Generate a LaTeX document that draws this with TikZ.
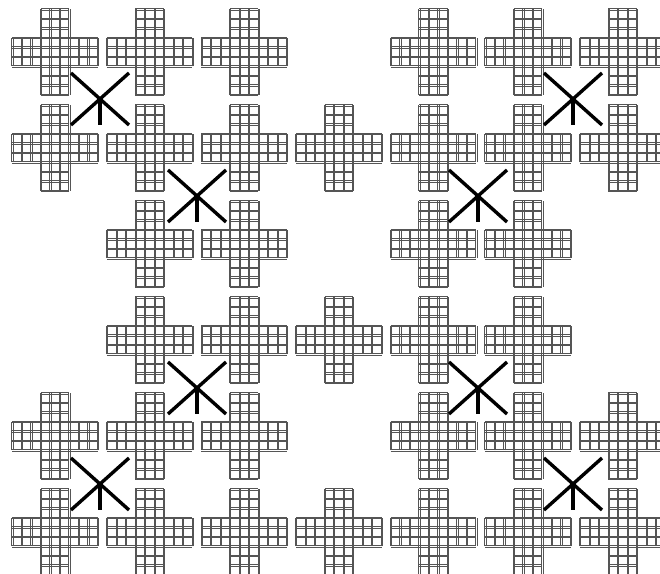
\documentclass[tikz,border=0pt]{standalone}
\usepackage{tikz}
\definecolor{garisabu}{RGB}{85,85,85}

\tikzset{
  plus/.pic={
    \foreach \d in {-0.06,0.06} {
      \foreach \k in {-1.5,-0.5,0.5,1.5} {
        \draw[selgaris] (-4.5,\k+\d) -- (4.5,\k+\d);
        \draw[selgaris] (\k+\d,-4.5) -- (\k+\d,4.5);
      }
      \foreach \k in {-4.5,-3.5,-2.5,2.5,3.5,4.5} {
        \draw[selgaris] (-1.5,\k+\d) -- (1.5,\k+\d);
        \draw[selgaris] (\k+\d,-1.5) -- (\k+\d,1.5);
      }
    }
  },
  silang/.pic={
    \draw[tandaX] (-29,26) -- (29,-26);
    \draw[tandaX] (-29,-26) -- (29,26);
    \draw[tandaX] (0,0) -- (0,-26);
  }
}

\begin{document}
\begin{tikzpicture}[x=0.5mm, y=0.5mm,
    selgaris/.style={draw=garisabu, line width=0.2mm},
    tandaX/.style={draw=black, line width=1.7mm}]
                \useasboundingbox (0,0) rectangle (660,574);
                \clip (0,0) rectangle (660,574);
                % baris salib, dari atas ke bawah
                \foreach \r/\kolom in {1/{1,2,3,5,6,7}, 2/{1,2,3,4,5,6,7}, 3/{2,3,5,6},
                                       4/{2,3,4,5,6}, 5/{1,2,3,5,6,7}, 6/{1,2,3,4,5,6,7}} {
                    \foreach \c in \kolom {
                        \pic[scale=9.5] at ({55+94.6*(\c-1)}, {522-96*(\r-1)}) {plus};
                    }
                }
                % tanda silang
                \foreach \p in {(100,475), (197,378), (573,475), (478,378),
                                (197,186), (478,186), (100,90), (573,90)} {
                    \pic at \p {silang};
                }
            \end{tikzpicture}
\end{document}
